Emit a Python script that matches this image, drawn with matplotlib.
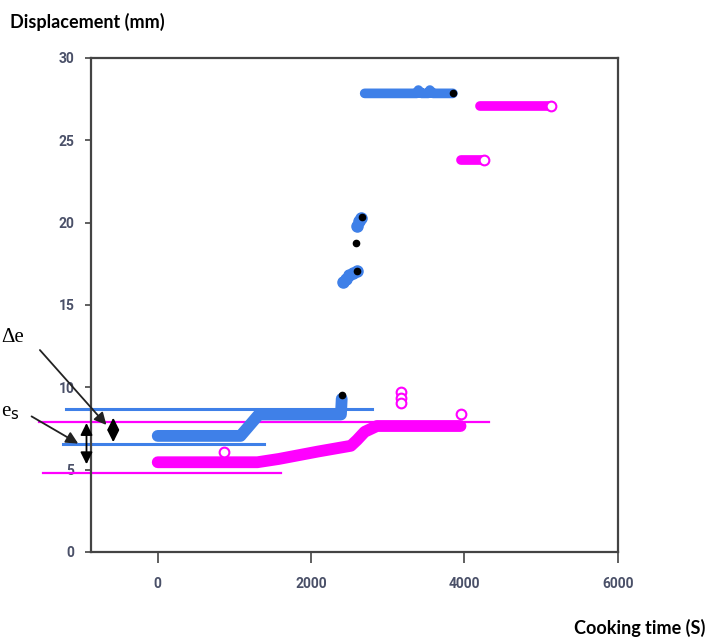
import matplotlib
matplotlib.use("Agg")
import matplotlib.pyplot as plt

# --- data ---
# blue test: low plateau, step, jump, upper plateau
blue_band_t = [0, 1080, 1320, 2390, 2400]
blue_band_d = [7.05, 7.05, 8.35, 8.35, 9.3]
blue_jump_t = [2413, 2450, 2500, 2550, 2594, 2600, 2630, 2650]
blue_jump_d = [16.39, 16.55, 16.8, 16.95, 17.06, 19.8, 20.1, 20.3]
blue_top_t = [2700, 3380, 3400, 3440, 3530, 3550, 3590, 3850]
blue_top_d = [27.85, 27.85, 28.05, 27.85, 27.85, 28.05, 27.85, 27.85]
black_t = [2400, 2594, 2581, 2660, 3857]
black_d = [9.55, 17.06, 18.76, 20.35, 27.9]

# pink test
pink_band_t = [0, 1300, 1580, 2090, 2520, 2600, 2700, 2860, 3950]
pink_band_d = [5.45, 5.45, 5.65, 6.1, 6.45, 6.8, 7.3, 7.65, 7.65]
pink_mid_t = [3950, 4250]
pink_mid_d = [23.8, 23.8]
pink_top_t = [4200, 5130]
pink_top_d = [27.1, 27.1]
pink_open_t = [865, 3170, 3170, 3170, 3950, 4250, 5130]
pink_open_d = [6.07, 9.7, 9.35, 9.05, 8.35, 23.8, 27.1]

# reference lines (y, x start, x end)
blue_ref_y = [8.68, 6.56]
blue_ref_x0 = [-1200, -1239]
blue_ref_x1 = [2800, 1381]
pink_ref_y = [7.9, 4.8]
pink_ref_x0 = [-1548, -1497]
pink_ref_x1 = [4323, 1613]

BLUE = "#3f80e8"
PINK = "#ff00ff"

fig = plt.figure(figsize=(7.10, 6.42), dpi=100)
ax = fig.add_axes([0.1282, 0.1402, 0.870 - 0.1282, 0.9097 - 0.1402])

# reference lines, drawn outside the axes too
for y, x0, x1 in zip(blue_ref_y, blue_ref_x0, blue_ref_x1):
    ax.plot([x0, x1], [y, y], color=BLUE, lw=2.2, clip_on=False, zorder=2)
for y, x0, x1 in zip(pink_ref_y, pink_ref_x0, pink_ref_x1):
    ax.plot([x0, x1], [y, y], color=PINK, lw=1.6, clip_on=False, zorder=2)

# dense measurement bands
ax.plot(blue_band_t, blue_band_d, color=BLUE, lw=8.5, solid_capstyle="round",
        solid_joinstyle="round", zorder=3)
ax.plot(blue_top_t, blue_top_d, color=BLUE, lw=7, solid_capstyle="round", zorder=3)
ax.plot(blue_jump_t, blue_jump_d, "o", color=BLUE, ms=8, zorder=3)
ax.plot(pink_band_t, pink_band_d, color=PINK, lw=8.5, solid_capstyle="round",
        solid_joinstyle="round", zorder=3)
ax.plot(pink_mid_t, pink_mid_d, color=PINK, lw=7, solid_capstyle="round", zorder=3)
ax.plot(pink_top_t, pink_top_d, color=PINK, lw=7, solid_capstyle="round", zorder=3)
ax.plot(pink_open_t, pink_open_d, "o", mfc="white", mec=PINK, mew=1.5, ms=7, zorder=4)
ax.plot(black_t, black_d, "o", color="black", ms=4.5, zorder=5)

ax.set_xlim(-870, 6000)
ax.set_ylim(0, 30)
ax.set_xticks([0, 2000, 4000, 6000])
ax.set_yticks([0, 5, 10, 15, 20, 25, 30])

for s in ax.spines.values():
    s.set_color("#444444")
    s.set_linewidth(1.6)
ax.tick_params(axis="y", direction="out", length=4, width=1.2, color="#444444",
               labelsize=10, labelcolor="#4a5068", pad=8)
ax.tick_params(axis="x", direction="out", length=8, width=1.2, color="#444444",
               labelsize=10, labelcolor="#4a5068", pad=10)
for lab in ax.get_xticklabels() + ax.get_yticklabels():
    lab.set_family(["Roboto"])
    lab.set_fontweight("bold")

# annotation arrows (outside the axes)
ax.annotate("", xy=(-645, 7.59), xytext=(-1561, 12.39), xycoords="data",
            arrowprops=dict(arrowstyle="-|>", color="#222222", lw=1.3, mutation_scale=18),
            annotation_clip=False)
ax.annotate("", xy=(-1006, 6.5), xytext=(-1677, 8.32), xycoords="data",
            arrowprops=dict(arrowstyle="-|>", color="#222222", lw=1.3, mutation_scale=18),
            annotation_clip=False)
ax.annotate("", xy=(-929, 5.16), xytext=(-929, 8.0), xycoords="data",
            arrowprops=dict(arrowstyle="<|-|>", color="black", lw=1.3, mutation_scale=18),
            annotation_clip=False)
ax.annotate("", xy=(-580, 6.5), xytext=(-580, 8.32), xycoords="data",
            arrowprops=dict(arrowstyle="<|-|>", color="black", lw=1.3, mutation_scale=18),
            annotation_clip=False)

fig.text(0.002, 1 - 337 / 642, "\u0394e", family="Liberation Serif", fontsize=15,
         va="center", ha="left")
fig.text(0.002, 1 - 413 / 642, r"e$_\mathrm{s}$", family="Liberation Serif", fontsize=15,
         va="center", ha="left")

fig.text(10 / 710, 1 - 22 / 642, "Displacement (mm)", fontsize=13, fontweight="bold",
         family=["Lato"], va="center", ha="left")
fig.text(705 / 710, 1 - 628 / 642, "Cooking time (S)", fontsize=13, fontweight="bold",
         family=["Lato"], va="center", ha="right")

fig.savefig("out.png", dpi=100)
